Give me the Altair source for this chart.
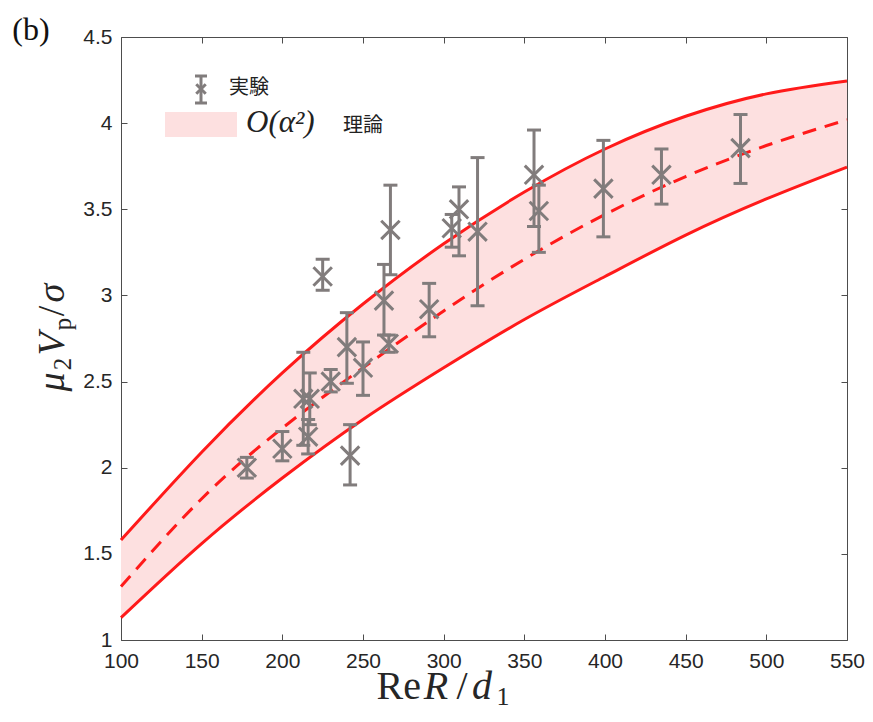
import altair as alt
import pandas as pd

# ---- theory curves ----
curve_x = [100, 150, 200, 250, 300, 350, 400, 450, 500, 550]
upper = [1.58, 2.09, 2.55, 2.95, 3.30, 3.60, 3.85, 4.04, 4.17, 4.245]
middle = [1.31, 1.82, 2.23, 2.58, 2.91, 3.21, 3.47, 3.69, 3.87, 4.02]
lower = [1.13, 1.56, 1.94, 2.28, 2.58, 2.86, 3.11, 3.35, 3.56, 3.745]

# ---- experiments ----
re_vals = [178, 200, 213, 217, 216, 225, 230, 240, 242, 250, 263, 266, 267,
           291, 305, 309.5, 321, 356, 359, 399, 435, 484]
v_vals = [2.00, 2.11, 2.40, 2.40, 2.18, 3.11, 2.50, 2.70, 2.07, 2.58, 2.97, 2.72,
          3.38, 2.92, 3.39, 3.50, 3.37, 3.70, 3.49, 3.62, 3.70, 3.855]
v_lo = [1.94, 2.04, 2.13, 2.25, 2.08, 3.03, 2.44, 2.49, 1.90, 2.42, 2.77, 2.67,
        3.12, 2.76, 3.28, 3.23, 2.94, 3.40, 3.25, 3.34, 3.53, 3.65]
v_hi = [2.06, 2.21, 2.67, 2.55, 2.28, 3.21, 2.57, 2.90, 2.25, 2.73, 3.18, 2.77,
        3.64, 3.07, 3.47, 3.63, 3.80, 3.96, 3.64, 3.90, 3.85, 4.05]

x_ticks = [100, 150, 200, 250, 300, 350, 400, 450, 500, 550]
y_ticks = [1, 1.5, 2, 2.5, 3, 3.5, 4, 4.5]

curves = pd.DataFrame({"x": curve_x, "upper": upper, "middle": middle, "lower": lower})
pts = pd.DataFrame({"x": re_vals, "v": v_vals, "lo": v_lo, "hi": v_hi})
one = pd.DataFrame({"a": [0]})

RED = "#ff1a1a"
GRAY = "#817c7c"
PINK = "#fde0e0"
AX = "#4d4d4d"
TXT = "#262626"
XPATH = "M-1,-1L1,1M1,-1L-1,1"
SERIF = "Liberation Serif"

xs = alt.Scale(domain=[100, 550], nice=False, zero=False)
ys = alt.Scale(domain=[1, 4.5], nice=False, zero=False)

lab_common = dict(ticks=False, tickSize=0, domain=False, grid=False, title=None,
                  labelFont="Liberation Sans", labelFontSize=21, labelColor=TXT,
                  labelOverlap=False, labelFlush=False)
x_lab = alt.Axis(orient="bottom", values=x_ticks, format="d", labelPadding=10, **lab_common)
y_lab = alt.Axis(orient="left", values=y_ticks, format="~g", labelPadding=9, **lab_common)


def tick_axis(orient, vals):
    return alt.Axis(orient=orient, values=vals, labels=False, domain=False, grid=False,
                    ticks=True, tickSize=6, tickColor=AX, tickWidth=1, offset=-6, title=None)


band = alt.Chart(curves).mark_area(color=PINK, interpolate="natural").encode(
    x=alt.X("x:Q", scale=xs, axis=x_lab),
    y=alt.Y("lower:Q", scale=ys, axis=y_lab),
    y2="upper:Q",
)
up_line = alt.Chart(curves).mark_line(color=RED, strokeWidth=3, interpolate="natural").encode(
    x=alt.X("x:Q", scale=xs, axis=tick_axis("bottom", x_ticks)),
    y=alt.Y("upper:Q", scale=ys, axis=tick_axis("left", y_ticks)),
)
low_line = alt.Chart(curves).mark_line(color=RED, strokeWidth=3, interpolate="natural").encode(
    x=alt.X("x:Q", scale=xs, axis=tick_axis("top", x_ticks)),
    y=alt.Y("lower:Q", scale=ys, axis=tick_axis("right", y_ticks)),
)
mid_line = alt.Chart(curves).mark_line(color=RED, strokeWidth=3, strokeDash=[14, 9],
                                       interpolate="natural").encode(
    x=alt.X("x:Q", scale=xs, axis=None),
    y=alt.Y("middle:Q", scale=ys, axis=None),
)

rules = alt.Chart(pts).mark_rule(color=GRAY, strokeWidth=3).encode(
    x=alt.X("x:Q", scale=xs, axis=None),
    y=alt.Y("lo:Q", scale=ys, axis=None),
    y2="hi:Q",
)
cap_lo = alt.Chart(pts).mark_tick(orient="horizontal", size=14, thickness=3, color=GRAY, opacity=1).encode(
    x=alt.X("x:Q", scale=xs, axis=None),
    y=alt.Y("lo:Q", scale=ys, axis=None),
)
cap_hi = alt.Chart(pts).mark_tick(orient="horizontal", size=14, thickness=3, color=GRAY, opacity=1).encode(
    x=alt.X("x:Q", scale=xs, axis=None),
    y=alt.Y("hi:Q", scale=ys, axis=None),
)
marks = alt.Chart(pts).mark_point(shape=XPATH, size=340, strokeWidth=3, filled=False,
                                  color=GRAY, opacity=1).encode(
    x=alt.X("x:Q", scale=xs, axis=None),
    y=alt.Y("v:Q", scale=ys, axis=None),
)

# ---- legend ----
leg_rule = alt.Chart(one).mark_rule(color=GRAY, strokeWidth=3).encode(
    x=alt.value(80), y=alt.value(39), y2=alt.value(66))
leg_cap1 = alt.Chart(one).mark_rule(color=GRAY, strokeWidth=3).encode(
    x=alt.value(74), x2=alt.value(86), y=alt.value(39))
leg_cap2 = alt.Chart(one).mark_rule(color=GRAY, strokeWidth=3).encode(
    x=alt.value(74), x2=alt.value(86), y=alt.value(66))
leg_pt = alt.Chart(one).mark_point(shape=XPATH, size=90, strokeWidth=3, filled=False,
                                   color=GRAY, opacity=1).encode(x=alt.value(80), y=alt.value(52))
leg_t1 = alt.Chart(one).mark_text(text="実験", font="Noto Sans CJK JP", fontSize=20,
                                  align="left", baseline="middle", color="#222222").encode(
    x=alt.value(108), y=alt.value(51))
leg_rect = alt.Chart(one).mark_rect(color=PINK).encode(
    x=alt.value(44), x2=alt.value(116), y=alt.value(75), y2=alt.value(100))
leg_t2 = alt.Chart(one).mark_text(text="O(α²)", font=SERIF, fontSize=31,
                                  fontStyle="italic", align="left", baseline="middle",
                                  color="#222222").encode(x=alt.value(125), y=alt.value(86))
leg_t3 = alt.Chart(one).mark_text(text="理論", font="Noto Sans CJK JP", fontSize=20,
                                  align="left", baseline="middle", color="#222222").encode(
    x=alt.value(222), y=alt.value(89))


# ---- titles (pieces so that roman / italic / subscript match the reference) ----
def piece(text, x, y, size, italic=False, angle=0, align="center"):
    kw = dict(text=text, font=SERIF, fontSize=size, align=align, baseline="alphabetic",
              color=TXT)
    if italic:
        kw["fontStyle"] = "italic"
    if angle:
        kw["angle"] = angle
    return alt.Chart(one).mark_text(**kw).encode(x=alt.value(x), y=alt.value(y))


XB = 662
x_title = [
    piece("Re", 300, XB, 40, align="right"),
    piece("R", 315, XB, 40, italic=True),
    piece("/", 341, XB, 40),
    piece("d", 361, XB, 40, italic=True),
    piece("1", 382, XB + 6, 26),
]
# rotated y-title, reads bottom to top; the subscript shift goes to +x
YB = -57
y_title = [
    piece("μ", YB, 345, 38, italic=True, angle=270),
    piece("2", YB + 7, 327, 25, angle=270),
    piece("V", YB, 307, 38, italic=True, angle=270),
    piece("p", YB + 7, 287, 25, angle=270),
    piece("/", YB, 274, 38, angle=270),
    piece("σ", YB, 256, 38, italic=True, angle=270),
]
lab_b = alt.Chart(one).mark_text(text="(b)", font=SERIF, fontSize=32,
                                 align="center", baseline="middle", color="#111111").encode(
    x=alt.value(-90), y=alt.value(-7))

chart = alt.layer(
    band, up_line, low_line, mid_line, rules, cap_lo, cap_hi, marks,
    leg_rule, leg_cap1, leg_cap2, leg_pt, leg_t1, leg_rect, leg_t2, leg_t3,
    *x_title, *y_title, lab_b,
).resolve_axis(x="independent", y="independent").properties(
    width=726, height=603,
    autosize=alt.AutoSizeParams(type="none"),
    padding={"left": 113, "top": 29, "right": 18, "bottom": 72},
).configure_view(stroke=AX, strokeWidth=1)

chart.save("out.html", embed_options={"renderer": "svg", "actions": False})
